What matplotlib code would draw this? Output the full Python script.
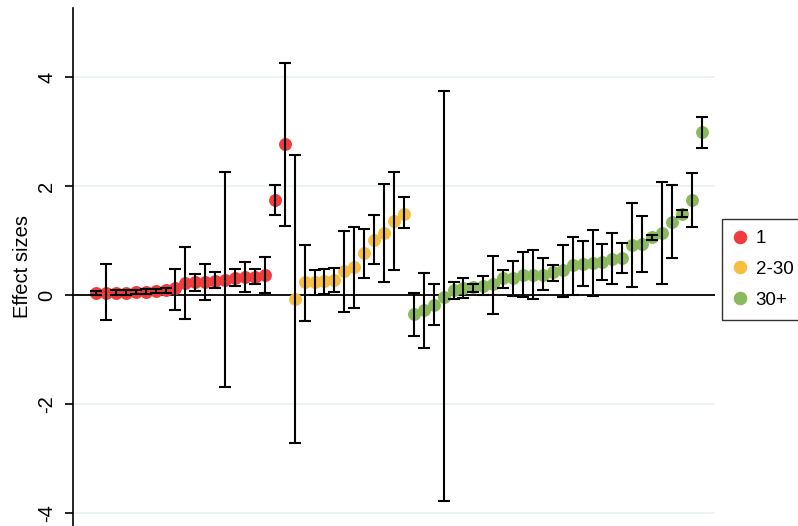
import matplotlib
matplotlib.use("Agg")
import matplotlib.pyplot as plt
import numpy as np

plt.rcParams['font.family'] = ['Liberation Sans', 'DejaVu Sans']

# ---- data ----
group_labels = ["1", "2-30", "30+"]
group_colors = ["#F03C3C", "#F6BF42", "#8BBA5C"]

red_est = [0.04, 0.05, 0.05, 0.05, 0.06, 0.07, 0.08, 0.09, 0.13, 0.23,
           0.24, 0.25, 0.27, 0.29, 0.31, 0.33, 0.34, 0.37, 1.75, 2.78]
red_lo = [0.00, -0.46, 0.01, 0.01, 0.02, 0.03, 0.04, 0.05, -0.26, -0.43,
          0.08, -0.09, 0.14, -1.68, 0.18, 0.06, 0.20, 0.04, 1.48, 1.27]
red_hi = [0.08, 0.57, 0.09, 0.09, 0.10, 0.11, 0.12, 0.13, 0.48, 0.88,
          0.40, 0.58, 0.43, 2.27, 0.49, 0.62, 0.49, 0.71, 2.03, 4.27]

yel_est = [-0.07, 0.24, 0.24, 0.26, 0.29, 0.44, 0.52, 0.77, 1.02, 1.14, 1.36, 1.50]
yel_lo = [-2.71, -0.47, 0.01, 0.02, 0.06, -0.30, -0.23, 0.31, 0.57, 0.24, 0.47, 1.23]
yel_hi = [2.58, 0.93, 0.46, 0.48, 0.51, 1.18, 1.26, 1.22, 1.48, 2.04, 2.26, 1.80]

grn_est = [-0.35, -0.27, -0.17, -0.03, 0.09, 0.14, 0.15, 0.18, 0.20, 0.31,
           0.32, 0.38, 0.38, 0.38, 0.43, 0.46, 0.55, 0.58, 0.60, 0.62,
           0.66, 0.69, 0.93, 0.94, 1.07, 1.14, 1.35, 1.49, 1.74, 3.00]
grn_lo = [-0.74, -0.96, -0.55, -3.78, -0.07, -0.04, 0.06, 0.01, -0.35, 0.14,
          -0.01, -0.03, -0.06, 0.10, 0.27, -0.03, 0.01, 0.18, -0.01, 0.29,
          0.20, 0.41, 0.15, 0.43, 1.02, 0.20, 0.68, 1.43, 1.25, 2.71]
grn_hi = [0.05, 0.41, 0.20, 3.75, 0.24, 0.32, 0.21, 0.35, 0.73, 0.46,
          0.63, 0.79, 0.83, 0.68, 0.55, 0.93, 1.07, 0.99, 1.19, 0.94,
          1.14, 0.96, 1.69, 1.46, 1.11, 2.08, 2.03, 1.57, 2.24, 3.28]

yticks = [-4, -2, 0, 2, 4]
ylabel = "Effect sizes"

# ---- figure ----
W, H = 798, 526
fig = plt.figure(figsize=(W / 100, H / 100), dpi=100)
ax = fig.add_axes([73 / W, 0, (715 - 73) / W, (526 - 8) / H])

groups = [(red_est, red_lo, red_hi), (yel_est, yel_lo, yel_hi), (grn_est, grn_lo, grn_hi)]
start = 1
handles = []
for (est, lo, hi), col, lab in zip(groups, group_colors, group_labels):
    est = np.array(est); lo = np.array(lo); hi = np.array(hi)
    x = np.arange(start, start + len(est))
    start += len(est)
    h = ax.plot(x, est, 'o', color=col, markersize=9.3, markeredgewidth=0,
                zorder=3, label=lab)[0]
    handles.append(h)
    ax.errorbar(x, est, yerr=[est - lo, hi - est], fmt='none', ecolor='black',
                elinewidth=1.5, capsize=4.0, capthick=1.5, zorder=4)

ax.set_xlim(-1.32, 63.33)
ax.set_ylim(-4.23, 5.27)

ax.axhline(0, color='black', lw=1.3, zorder=2)
for t in [-4, -2, 2, 4]:
    ax.axhline(t, color='#EAF2F3', lw=1.3, zorder=1)

for s in ['top', 'right', 'bottom']:
    ax.spines[s].set_visible(False)
ax.spines['left'].set_linewidth(1.2)
ax.set_xticks([])
ax.set_yticks(yticks)
ax.set_yticklabels([str(t) for t in yticks], rotation=90, va='center', fontsize=14.5)
ax.tick_params(axis='y', length=6, width=1.2, pad=6)
ax.set_ylabel(ylabel, fontsize=14.5, labelpad=4)

leg = fig.legend(handles=handles, loc='upper left',
                 bbox_to_anchor=(722 / W, 1 - 219 / H), fontsize=13.5,
                 frameon=True, fancybox=False, edgecolor='black',
                 handlelength=0.7, handletextpad=0.5, borderpad=0.6,
                 labelspacing=0.72, borderaxespad=0, markerscale=1.05)
leg.get_frame().set_linewidth(1.0)

fig.savefig("out.png", dpi=100)
